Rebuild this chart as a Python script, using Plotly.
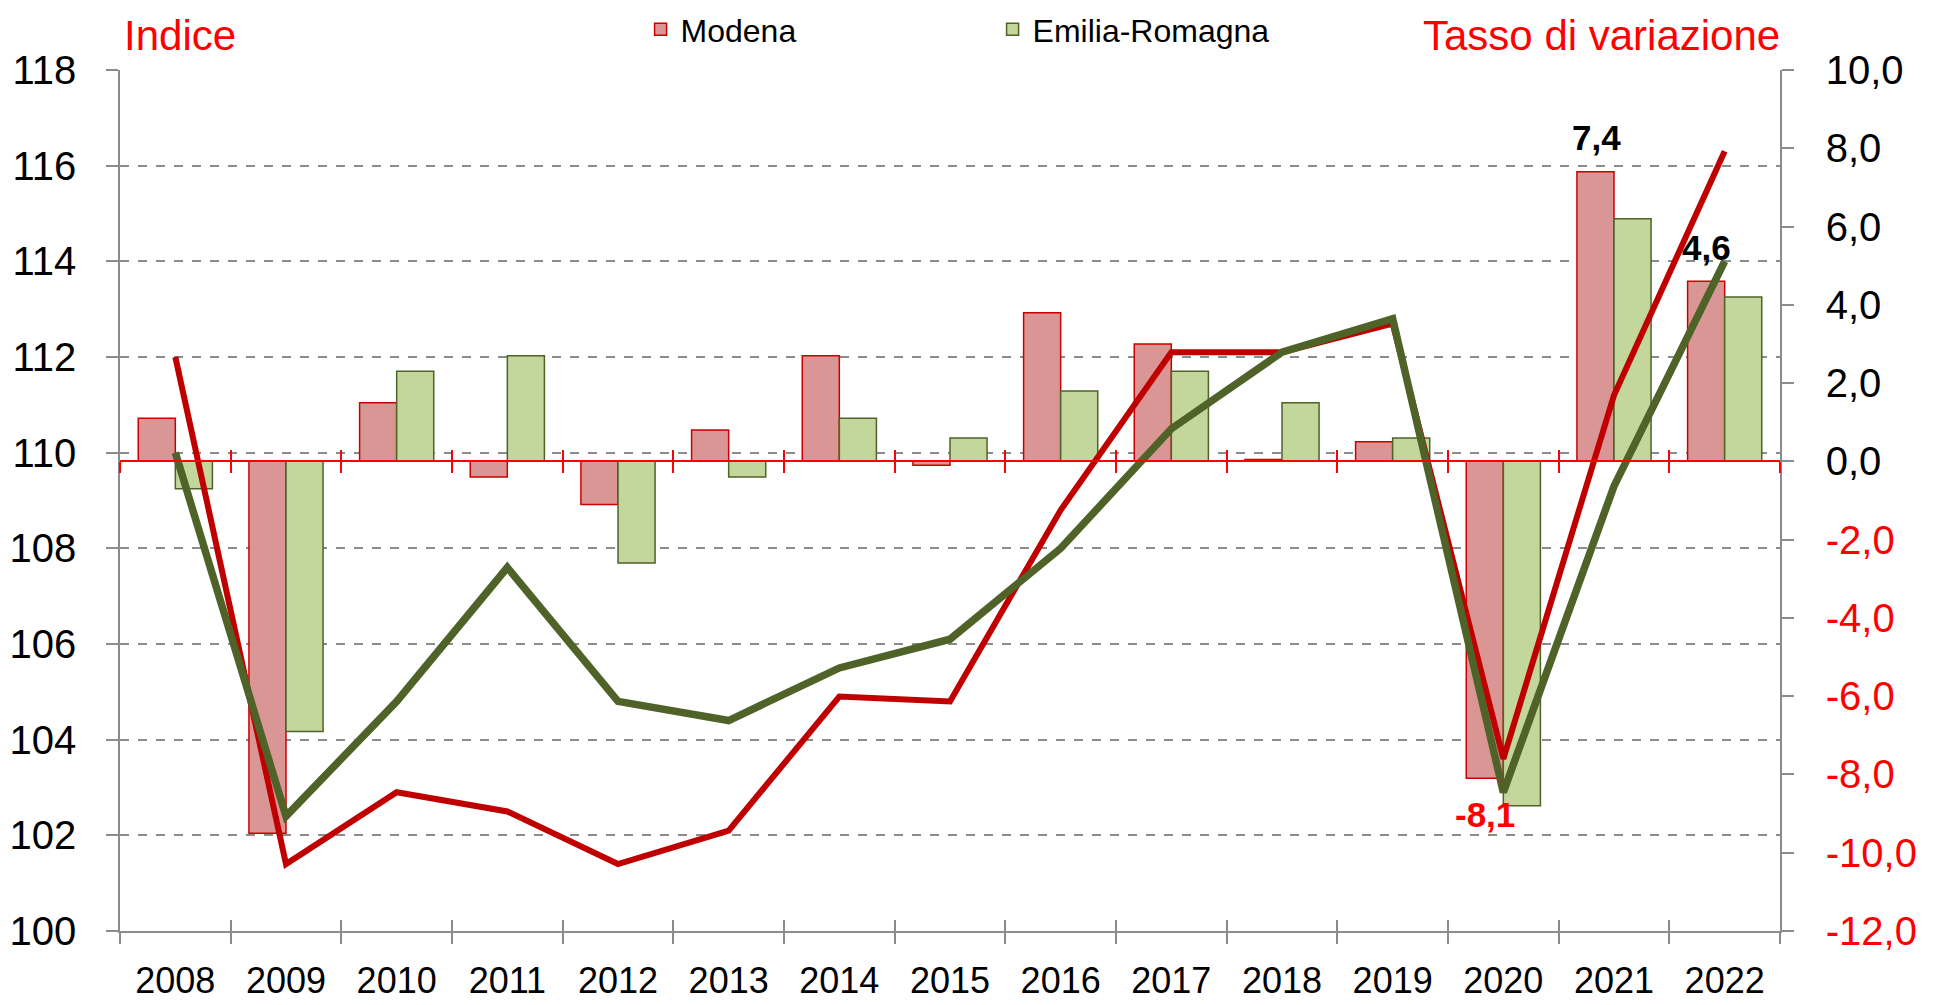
import plotly.graph_objects as go

# data
years = ["2008", "2009", "2010", "2011", "2012", "2013", "2014", "2015",
         "2016", "2017", "2018", "2019", "2020", "2021", "2022"]
modena_var = [1.1, -9.5, 1.5, -0.4, -1.1, 0.8, 2.7, -0.1, 3.8, 3.0, 0.05, 0.5, -8.1, 7.4, 4.6]
er_var = [-0.7, -6.9, 2.3, 2.7, -2.6, -0.4, 1.1, 0.6, 1.8, 2.3, 1.5, 0.6, -8.8, 6.2, 4.2]
modena_idx = [112.0, 101.4, 102.9, 102.5, 101.4, 102.1, 104.9, 104.8, 108.8, 112.1,
              112.1, 112.7, 103.6, 111.2, 116.3]
er_idx = [110.0, 102.4, 104.8, 107.6, 104.8, 104.4, 105.5, 106.1, 108.0, 110.5,
          112.1, 112.8, 102.9, 109.3, 114.0]

left_ticks = [100, 102, 104, 106, 108, 110, 112, 114, 116, 118]
right_ticks = [-12, -10, -8, -6, -4, -2, 0, 2, 4, 6, 8, 10]
right_labels = ["-12,0", "-10,0", "-8,0", "-6,0", "-4,0", "-2,0",
                "0,0", "2,0", "4,0", "6,0", "8,0", "10,0"]

# labelled Modena bars (year, text, colour)
bar_labels = [("2020", "-8,1", "#FF0000"), ("2021", "7,4", "#000000"), ("2022", "4,6", "#000000")]

FONT = "Arial, Liberation Sans, sans-serif"
RED_TXT = "#FF0000"
GRID = "#8C8C8C"

fig = go.Figure()

# base subplot only carries the left axis with its dashed grid
fig.add_trace(go.Scatter(x=years, y=modena_idx, mode="lines", line=dict(width=0),
                         opacity=0, showlegend=False, hoverinfo="skip"))

# bars -> right axis
fig.add_trace(go.Bar(
    x=years, y=modena_var, name="Modena", yaxis="y2",
    marker=dict(color="#D99694", line=dict(color="#CC0000", width=1.5)),
))
fig.add_trace(go.Bar(
    x=years, y=er_var, name="Emilia-Romagna", yaxis="y2",
    marker=dict(color="#C3D69B", line=dict(color="#4F6228", width=1.5)),
))

# helper traces so the extra tick axes (bottom cross ticks, red zero line) exist
for ax in ["x2", "x3", "x4"]:
    fig.add_trace(go.Scatter(x=years, y=modena_idx, xaxis=ax, mode="lines",
                             line=dict(width=0), opacity=0, showlegend=False,
                             hoverinfo="skip"))

# index lines -> hidden copy of the left axis, drawn on top of the bars
fig.add_trace(go.Scatter(
    x=years, y=modena_idx, yaxis="y3", mode="lines", showlegend=False,
    line=dict(color="#C00000", width=6),
))
fig.add_trace(go.Scatter(
    x=years, y=er_idx, yaxis="y3", mode="lines", showlegend=False,
    line=dict(color="#4F6228", width=7.5),
))

# data labels on the Modena bars
for yr, txt, col in bar_labels:
    i = years.index(yr)
    v = modena_var[i]
    fig.add_annotation(
        x=i, y=v, xref="x", yref="y2", text="<b>%s</b>" % txt, showarrow=False,
        xshift=-18, yanchor="middle", yshift=34 if v > 0 else -36,
        font=dict(size=35, color=col, family=FONT),
    )

fig.add_annotation(x=0.001, y=1.040, xref="paper", yref="paper", text="Indice",
                   showarrow=False, xanchor="left", yanchor="middle",
                   font=dict(size=42, color=RED_TXT, family=FONT))
fig.add_annotation(x=1.001, y=1.040, xref="paper", yref="paper", text="Tasso di variazione",
                   showarrow=False, xanchor="right", yanchor="middle",
                   font=dict(size=42, color=RED_TXT, family=FONT))

right_text = ["<span style='color:%s'>%s</span>" % (RED_TXT if v < 0 else "#000000", t)
              for v, t in zip(right_ticks, right_labels)]

zero_pos = (0 - right_ticks[0]) / (right_ticks[-1] - right_ticks[0])
x_range = [-0.5, len(years) - 0.5]
cat_axis = dict(type="category", categoryorder="array", categoryarray=years,
                range=x_range, tickson="boundaries", showticklabels=False,
                showgrid=False, zeroline=False, ticklen=11, tickwidth=1.5)

fig.update_layout(
    width=1925, height=997,
    margin=dict(l=112, r=153, t=62, b=74, autoexpand=False),
    plot_bgcolor="white", paper_bgcolor="white",
    font=dict(family=FONT, size=36, color="#000000"),
    barmode="group", bargap=0.33, bargroupgap=0,
    showlegend=True,
    legend=dict(orientation="h", x=0.3136, y=1.047, xanchor="left", yanchor="middle",
                entrywidth=307, font=dict(size=32), bgcolor="rgba(0,0,0,0)",
                traceorder="normal"),
    xaxis=dict(type="category", categoryorder="array", categoryarray=years,
               range=x_range, tickson="boundaries", ticks="outside", ticklen=11,
               tickwidth=1.5, tickcolor=GRID, showline=True, linecolor=GRID,
               linewidth=1.5, showgrid=False, tickfont=dict(size=36),
               tickangle=0, ticklabelstandoff=17),
    xaxis2=dict(cat_axis, overlaying="x", anchor="free", position=0, side="bottom",
                ticks="inside", tickcolor=GRID, showline=False),
    xaxis3=dict(cat_axis, overlaying="x", anchor="free", position=zero_pos,
                ticks="outside", tickcolor=RED_TXT, showline=True, linecolor=RED_TXT,
                linewidth=1.5),
    xaxis4=dict(cat_axis, overlaying="x", anchor="free", position=zero_pos,
                ticks="inside", tickcolor=RED_TXT, showline=False),
    yaxis=dict(range=[left_ticks[0], left_ticks[-1]], tickvals=left_ticks,
               ticks="outside", ticklen=12, tickwidth=1.5, tickcolor=GRID,
               showline=True, linecolor=GRID, linewidth=1.5,
               showgrid=True, gridcolor=GRID, gridwidth=1.5, griddash="dash",
               zeroline=False, tickfont=dict(size=40), ticklabelstandoff=22),
    yaxis2=dict(range=[right_ticks[0], right_ticks[-1]], tickvals=right_ticks,
                ticktext=right_text, overlaying="y", side="right",
                ticks="outside", ticklen=12, tickwidth=1.5, tickcolor=GRID,
                showline=True, linecolor=GRID, linewidth=1.5,
                showgrid=False, zeroline=False, tickfont=dict(size=40),
                ticklabelstandoff=24),
    yaxis3=dict(range=[left_ticks[0], left_ticks[-1]], overlaying="y", visible=False),
)

fig.write_html("out.html")
